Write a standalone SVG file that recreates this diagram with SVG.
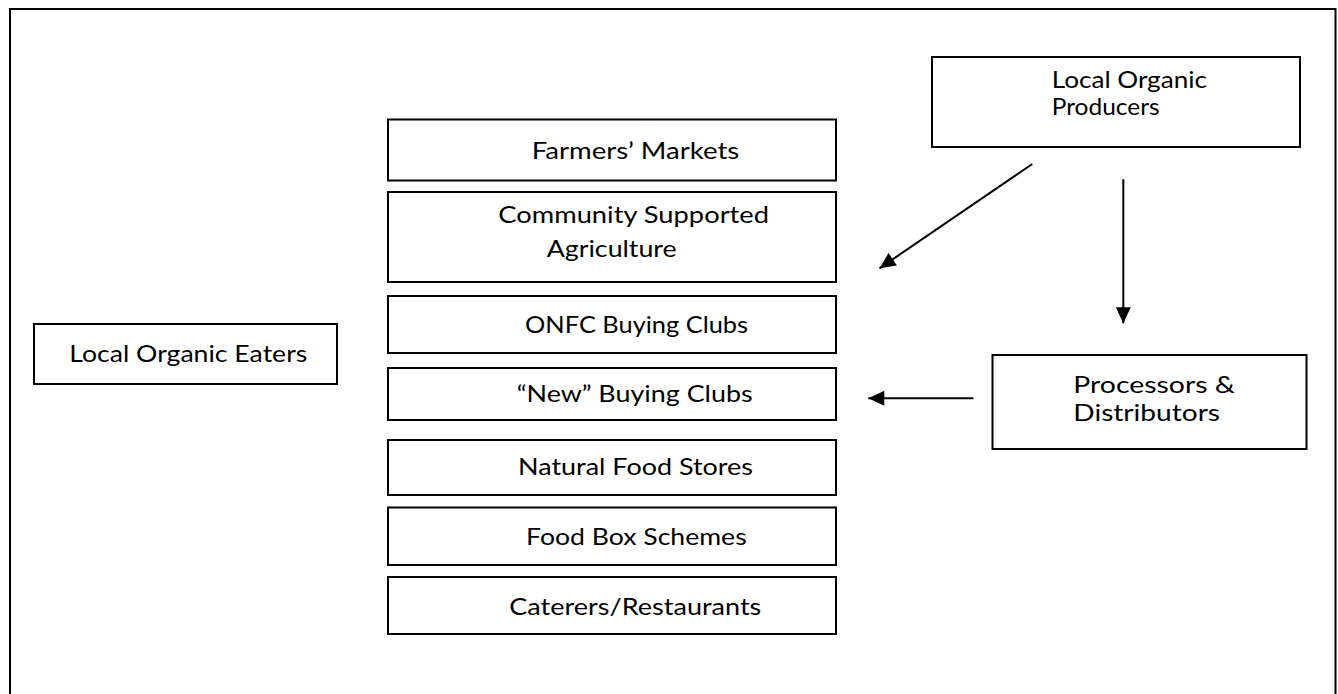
<svg xmlns="http://www.w3.org/2000/svg" width="1338" height="694" viewBox="0 0 1338 694">
  <style>
    .box { fill: #ffffff; stroke: #000000; stroke-width: 2; }
    .frame { fill: none; stroke: #000000; stroke-width: 2; }
    .lbl { font-family: Lato, "Open Sans", "Liberation Sans", sans-serif; font-size: 23.5px; fill: #000000; }
    .link { stroke: #000000; stroke-width: 2; fill: none; marker-end: url(#head); }
  </style>
  <defs>
    <marker id="head" markerUnits="userSpaceOnUse" markerWidth="17" markerHeight="15" refX="16" refY="7.5" orient="auto" overflow="visible">
      <path d="M0,0 L16,7.5 L0,15 Z" fill="#000000"/>
    </marker>
  </defs>

  <rect width="1338" height="694" fill="#ffffff"/>
  <!-- page frame, open at the bottom edge -->
  <rect class="frame" x="10" y="9" width="1325.5" height="700"/>

  <g id="local-organic-eaters">
    <rect class="box" x="34" y="324" width="303" height="60"/>
    <text class="lbl" x="69.3" y="361.7" textLength="238" lengthAdjust="spacingAndGlyphs">Local Organic Eaters</text>
  </g>

  <g id="farmers-markets">
    <rect class="box" x="388" y="119.5" width="448" height="61"/>
    <text class="lbl" x="531.7" y="159.3" textLength="207.6" lengthAdjust="spacingAndGlyphs">Farmers’ Markets</text>
  </g>

  <g id="community-supported-agriculture">
    <rect class="box" x="388" y="192" width="448" height="90"/>
    <text class="lbl" x="498.3" y="223.3" textLength="270.7" lengthAdjust="spacingAndGlyphs">Community Supported</text>
    <text class="lbl" x="546.7" y="256.7" textLength="130" lengthAdjust="spacingAndGlyphs">Agriculture</text>
  </g>

  <g id="onfc-buying-clubs">
    <rect class="box" x="388" y="296" width="448" height="57"/>
    <text class="lbl" x="525" y="333.3" textLength="223" lengthAdjust="spacingAndGlyphs">ONFC Buying Clubs</text>
  </g>

  <g id="new-buying-clubs">
    <rect class="box" x="388" y="368" width="448" height="52"/>
    <text class="lbl" x="516.7" y="401.7" textLength="236" lengthAdjust="spacingAndGlyphs">“New” Buying Clubs</text>
  </g>

  <g id="natural-food-stores">
    <rect class="box" x="388" y="440" width="448" height="55"/>
    <text class="lbl" x="518" y="475" textLength="235" lengthAdjust="spacingAndGlyphs">Natural Food Stores</text>
  </g>

  <g id="food-box-schemes">
    <rect class="box" x="388" y="507.5" width="448" height="57.5"/>
    <text class="lbl" x="526" y="545" textLength="220.7" lengthAdjust="spacingAndGlyphs">Food Box Schemes</text>
  </g>

  <g id="caterers-restaurants">
    <rect class="box" x="388" y="577" width="448" height="57"/>
    <text class="lbl" x="509.3" y="615" textLength="252" lengthAdjust="spacingAndGlyphs">Caterers/Restaurants</text>
  </g>

  <g id="local-organic-producers">
    <rect class="box" x="932" y="57" width="368" height="90"/>
    <text class="lbl" x="1051.7" y="88.3" textLength="155.3" lengthAdjust="spacingAndGlyphs">Local Organic</text>
    <text class="lbl" x="1051.7" y="115" textLength="108" lengthAdjust="spacingAndGlyphs">Producers</text>
  </g>

  <g id="processors-distributors">
    <rect class="box" x="992.5" y="355" width="314" height="94"/>
    <text class="lbl" x="1073.3" y="393.3" textLength="161.7" lengthAdjust="spacingAndGlyphs">Processors &amp;</text>
    <text class="lbl" x="1073.3" y="420.5" textLength="146.7" lengthAdjust="spacingAndGlyphs">Distributors</text>
  </g>

  <g id="connectors">
    <line class="link" x1="1032.3" y1="164" x2="879.5" y2="268.3"/>
    <line class="link" x1="1123.3" y1="179.3" x2="1123.3" y2="323.3"/>
    <line class="link" x1="973.3" y1="398.3" x2="868.3" y2="398.3"/>
  </g>
</svg>
